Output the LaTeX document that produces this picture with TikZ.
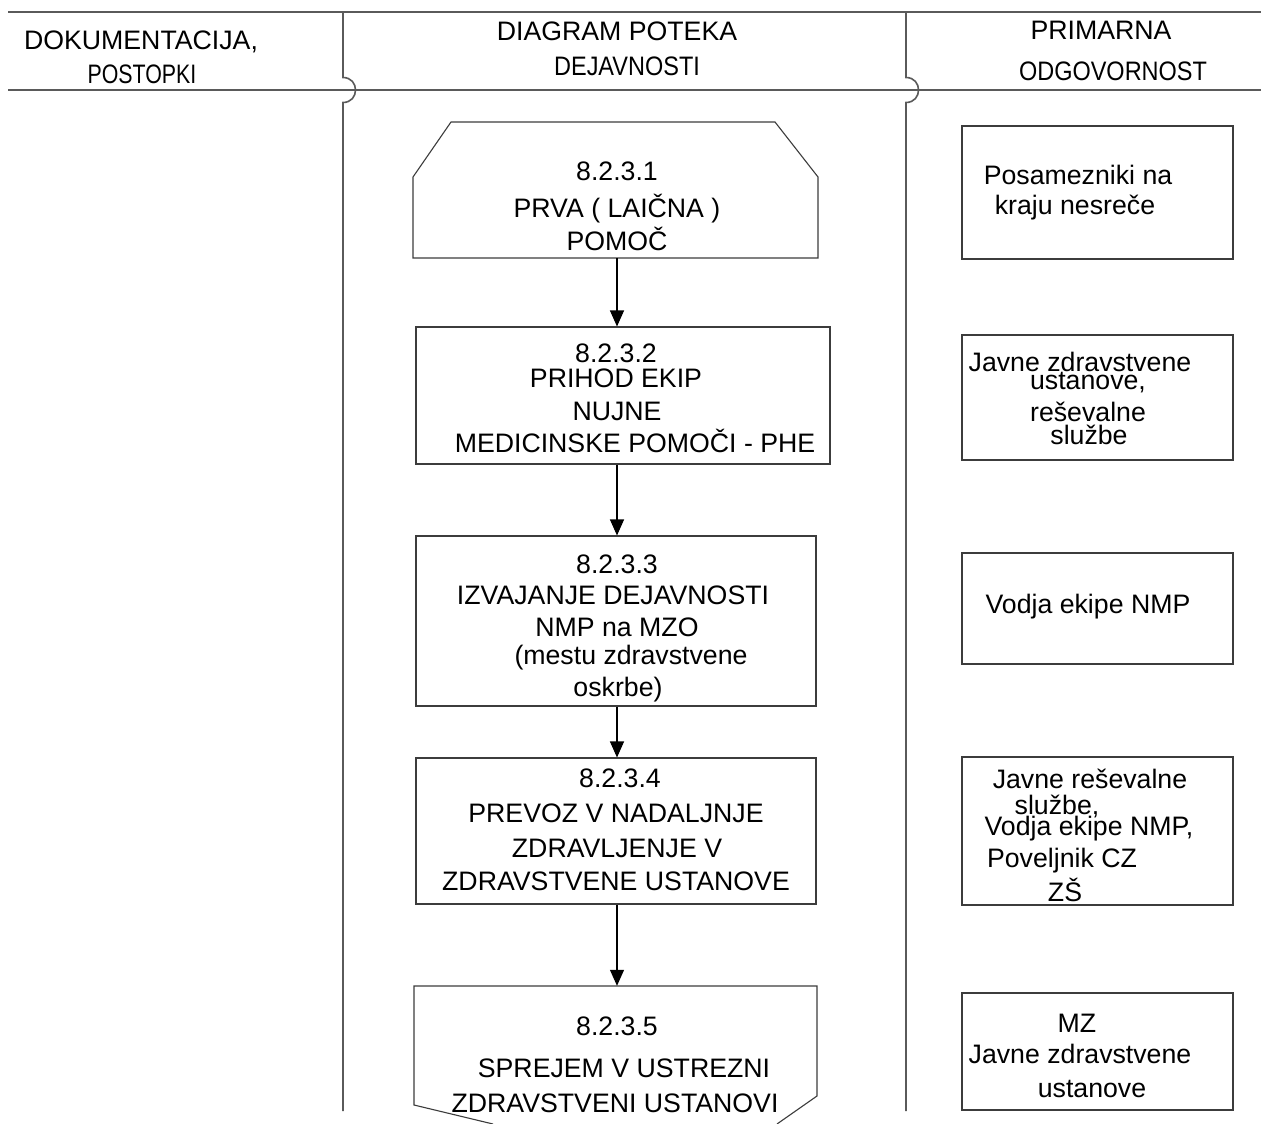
\documentclass[tikz,border=0pt]{standalone}
\usepackage{fontspec}
\setmainfont{Liberation Sans}
\usetikzlibrary{arrows.meta}
\definecolor{hdrgray}{HTML}{5A5A5A}
\definecolor{boxgray}{HTML}{3C3C3C}
\begin{document}
\begin{tikzpicture}[x=1pt,y=-1pt,
  hdr/.style={draw=hdrgray, line width=1.6pt},
  shapeline/.style={draw=boxgray, line width=1.1pt},
  box/.style={draw=boxgray, line width=1.1pt, rectangle, inner sep=0pt},
  ghost/.style={rectangle, inner sep=0pt},
  txt/.style={anchor=base, inner sep=0pt, font=\fontsize{26.7}{32}\selectfont},
  arr/.style={draw=black, line width=1.1pt, -{Triangle[width=14pt,length=16pt]}}]
\fill[white] (0,0) rectangle (1261,1124);
\useasboundingbox (0,0) rectangle (1261,1124);
\begin{scope}
\clip (0,0) rectangle (1261,1124);
% header lines
\draw[hdr] (8,12) -- (1261,12);
\draw[hdr] (8,90) -- (1261,90);
\draw[hdr] (343,12) -- (343,77.5) .. controls (359.7,77.5) and (359.7,102.5) .. (343,102.5) -- (343,1111);
\draw[hdr] (906,12) -- (906,77.5) .. controls (922.7,77.5) and (922.7,102.5) .. (906,102.5) -- (906,1111);
% header texts
\node[txt] (h1a) at (141,49) {DOKUMENTACIJA,};
\node[txt] (h1b) at (142,83) {\scalebox{0.8}[1]{POSTOPKI}};
\node[txt] (h2a) at (617,41) {DIAGRAM POTEKA};
\node[txt] (h2b) at (627,75) {\scalebox{0.88}[1]{DEJAVNOSTI}};
\node[txt] (h3a) at (1101,40) {PRIMARNA};
\node[txt] (h3b) at (1113,81) {\scalebox{0.88}[1]{ODGOVORNOST}};
% middle column shapes
\draw[shapeline] (413,258) -- (413,177) -- (451,122) -- (775,122) -- (818,177) -- (818,258) -- cycle;
\node[ghost, minimum width=405pt, minimum height=136pt] (b1) at (615.5,190) {};
\node[box, minimum width=414pt, minimum height=137pt] (b2) at (623,395.5) {};
\node[box, minimum width=400pt, minimum height=170pt] (b3) at (616,621) {};
\node[box, minimum width=400pt, minimum height=146pt] (b4) at (616,831) {};
\draw[shapeline] (777,1124) -- (817,1096) -- (817,986) -- (414,986) -- (414,1105) -- (493,1124);
\node[ghost, minimum width=403pt, minimum height=138pt] (b5) at (615.5,1055) {};
\coordinate (ax) at (617,0);
\draw[arr] (b1.south -| ax) -- (b2.north -| ax);
\draw[arr] (b2.south -| ax) -- (b3.north -| ax);
\draw[arr] (b3.south -| ax) -- (b4.north -| ax);
\draw[arr] (b4.south -| ax) -- (b5.north -| ax);
% middle texts
\node[txt] (t1a) at (617,180) {8.2.3.1};
\node[txt] (t1b) at (617,217) {PRVA ( LAIČNA )};
\node[txt] (t1c) at (617,250) {POMOČ};
\node[txt] (t2a) at (616,362) {8.2.3.2};
\node[txt] (t2b) at (616,387) {PRIHOD EKIP};
\node[txt] (t2c) at (617,420) {NUJNE};
\node[txt] (t2d) at (635,452) {MEDICINSKE POMOČI - PHE};
\node[txt] (t3a) at (617,573) {8.2.3.3};
\node[txt] (t3b) at (613,604) {IZVAJANJE DEJAVNOSTI};
\node[txt] (t3c) at (617,636) {NMP na MZO};
\node[txt] (t3d) at (631,664) {(mestu zdravstvene};
\node[txt] (t3e) at (618,696) {oskrbe)};
\node[txt] (t4a) at (620,787) {8.2.3.4};
\node[txt] (t4b) at (616,822) {PREVOZ V NADALJNJE};
\node[txt] (t4c) at (617,857) {ZDRAVLJENJE V};
\node[txt] (t4d) at (616,890) {ZDRAVSTVENE USTANOVE};
\node[txt] (t5a) at (617,1035) {8.2.3.5};
\node[txt] (t5b) at (624,1077) {SPREJEM V USTREZNI};
\node[txt] (t5c) at (615,1112) {ZDRAVSTVENI USTANOVI};
% right column boxes
\node[box, minimum width=271pt, minimum height=133pt] (r1) at (1097.5,192.5) {};
\node[box, minimum width=271pt, minimum height=125pt] (r2) at (1097.5,397.5) {};
\node[box, minimum width=271pt, minimum height=111pt] (r3) at (1097.5,608.5) {};
\node[box, minimum width=271pt, minimum height=148pt] (r4) at (1097.5,831) {};
\node[box, minimum width=271pt, minimum height=117pt] (r5) at (1097.5,1051.5) {};
% right texts
\node[txt] (u1a) at (1078,184) {Posamezniki na};
\node[txt] (u1b) at (1075,214) {kraju nesreče};
\node[txt] (u2a) at (1080,371) {Javne zdravstvene};
\node[txt] (u2b) at (1088,389) {ustanove,};
\node[txt] (u2c) at (1088,421) {reševalne};
\node[txt] (u2d) at (1089,444) {službe};
\node[txt] (u3a) at (1088,613) {Vodja ekipe NMP};
\node[txt] (u4a) at (1090,788) {Javne reševalne};
\node[txt] (u4b) at (1057,814) {službe,};
\node[txt] (u4c) at (1089,835) {Vodja ekipe NMP,};
\node[txt] (u4d) at (1062,867) {Poveljnik CZ};
\node[txt] (u4e) at (1065,901) {ZŠ};
\node[txt] (u5a) at (1077,1032) {MZ};
\node[txt] (u5b) at (1080,1063) {Javne zdravstvene};
\node[txt] (u5c) at (1092,1097) {ustanove};
\end{scope}
\end{tikzpicture}
\end{document}
